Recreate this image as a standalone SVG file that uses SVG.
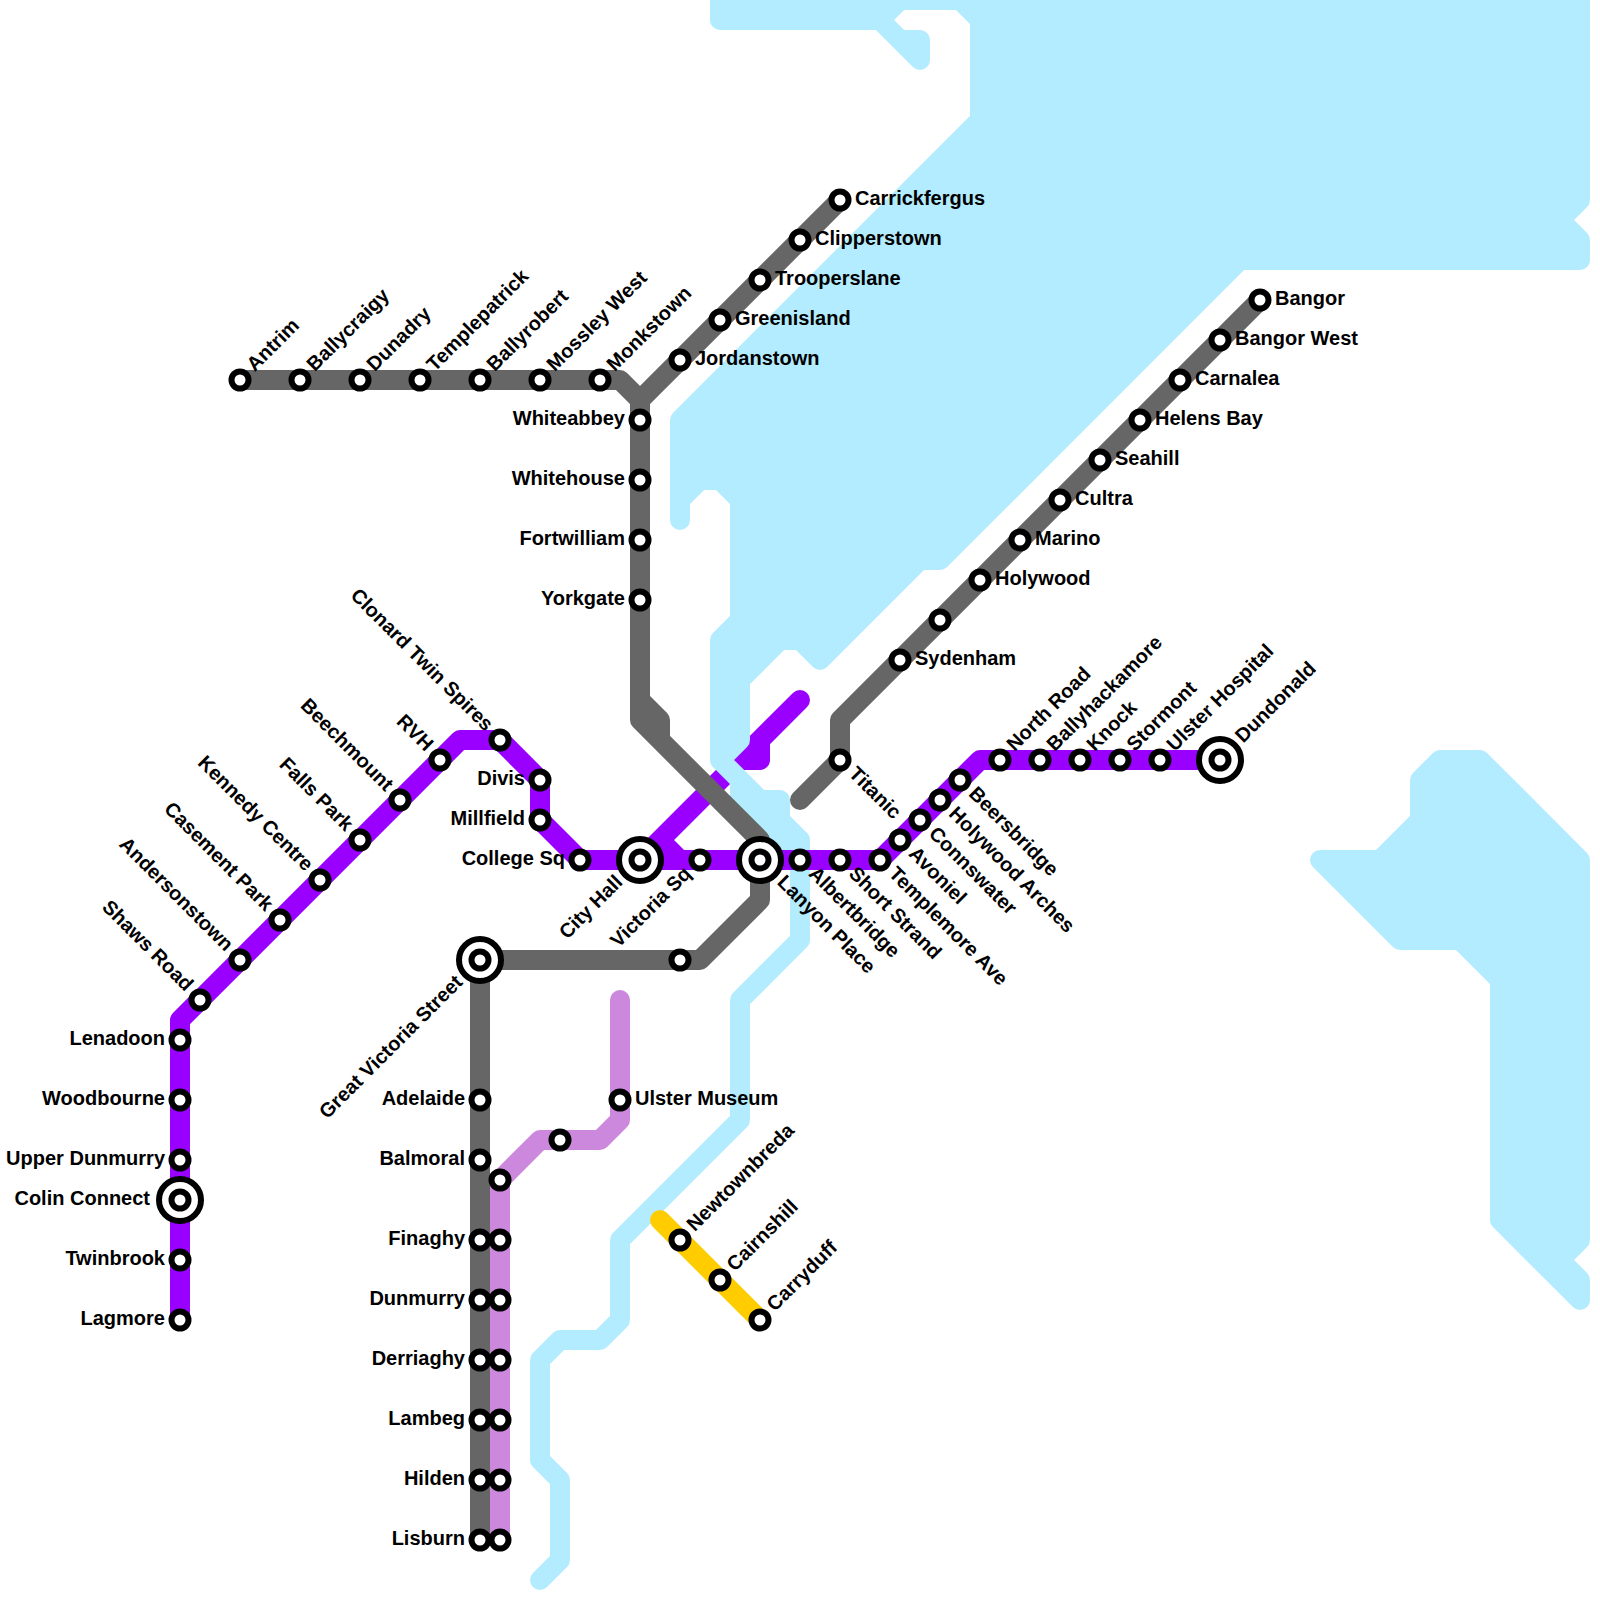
<svg xmlns="http://www.w3.org/2000/svg" width="1600" height="1600" viewBox="0 0 1600 1600">
<style>
.l{fill:none;stroke-width:20;stroke-linecap:round;stroke-linejoin:round}
.w{fill:#b3ecff;stroke:#b3ecff;stroke-width:20;stroke-linecap:round;stroke-linejoin:round}
.wl{fill:none;stroke:#b3ecff;stroke-width:20;stroke-linecap:round;stroke-linejoin:round}
.g{stroke:#666666}.p{stroke:#9900ff}.o{stroke:#cc88dd}.y{stroke:#ffcc00}
.s{fill:#fff;stroke:#000;stroke-width:6}
.i{fill:#fff;stroke:#000;stroke-width:6}
text{font-family:"Liberation Sans",Arial,sans-serif;font-weight:700;font-size:20px;fill:#000}
.e{text-anchor:end}
</style>
<rect width="1600" height="1600" fill="#fff"/>
<g id="connectors">
<path class="l p" d="M640 860L800 700M760 740V760H740M660 840L680 860"/>
<path class="w" d="M720 -20V20H880L920 60V40H900L880 20L900 0H960L980 20V120L680 420V520V500L700 480H720L740 500V620L720 640V760L740 780V800L780 840H800L780 820V800H760L720 760L740 740V680L780 640H800L820 660L920 560H940L1240 260H1580V240L1560 220L1580 200V-20Z"/>
<path class="wl" d="M800 840V940L740 1000V1120L620 1240V1320L600 1340H560L540 1360V1460L560 1480V1560L540 1580"/>
<path class="w" d="M1320 860H1380L1420 820V780L1440 760H1480L1580 860V1240L1560 1260L1580 1280V1300L1500 1220V980L1460 940H1400Z"/>
<path class="l g" d="M840 200L640 400L620 380H240M640 400V720L760 840V900L700 960H480V1540M640 700L660 720V740M1260 300L840 720V760L800 800"/>
<path class="l p" d="M1220 760H980L880 860H580L540 820V780L500 740H460L180 1020V1320"/>
<path class="l o" d="M620 1000V1120L600 1140H540L500 1180V1540"/>
<path class="l y" d="M660 1220L760 1320"/>
</g>
<g id="antrim"><circle class="s" cx="240" cy="380" r="8.5"/><text transform="translate(240 380) rotate(-45)" x="16" y="5">Antrim</text></g>
<g id="ballycraigy"><circle class="s" cx="300" cy="380" r="8.5"/><text transform="translate(300 380) rotate(-45)" x="16" y="5">Ballycraigy</text></g>
<g id="dunadry"><circle class="s" cx="360" cy="380" r="8.5"/><text transform="translate(360 380) rotate(-45)" x="16" y="5">Dunadry</text></g>
<g id="templepatrick"><circle class="s" cx="420" cy="380" r="8.5"/><text transform="translate(420 380) rotate(-45)" x="16" y="5">Templepatrick</text></g>
<g id="ballyrobert"><circle class="s" cx="480" cy="380" r="8.5"/><text transform="translate(480 380) rotate(-45)" x="16" y="5">Ballyrobert</text></g>
<g id="mossley-west"><circle class="s" cx="540" cy="380" r="8.5"/><text transform="translate(540 380) rotate(-45)" x="16" y="5">Mossley West</text></g>
<g id="monkstown"><circle class="s" cx="600" cy="380" r="8.5"/><text transform="translate(600 380) rotate(-45)" x="16" y="5">Monkstown</text></g>
<g id="jordanstown"><circle class="s" cx="680" cy="360" r="8.5"/><text x="695" y="365">Jordanstown</text></g>
<g id="greenisland"><circle class="s" cx="720" cy="320" r="8.5"/><text x="735" y="325">Greenisland</text></g>
<g id="trooperslane"><circle class="s" cx="760" cy="280" r="8.5"/><text x="775" y="285">Trooperslane</text></g>
<g id="clipperstown"><circle class="s" cx="800" cy="240" r="8.5"/><text x="815" y="245">Clipperstown</text></g>
<g id="carrickfergus"><circle class="s" cx="840" cy="200" r="8.5"/><text x="855" y="205">Carrickfergus</text></g>
<g id="whiteabbey"><circle class="s" cx="640" cy="420" r="8.5"/><text class="e" x="625" y="425">Whiteabbey</text></g>
<g id="whitehouse"><circle class="s" cx="640" cy="480" r="8.5"/><text class="e" x="625" y="485">Whitehouse</text></g>
<g id="fortwilliam"><circle class="s" cx="640" cy="540" r="8.5"/><text class="e" x="625" y="545">Fortwilliam</text></g>
<g id="yorkgate"><circle class="s" cx="640" cy="600" r="8.5"/><text class="e" x="625" y="605">Yorkgate</text></g>
<g id="bangor"><circle class="s" cx="1260" cy="300" r="8.5"/><text x="1275" y="305">Bangor</text></g>
<g id="bangor-west"><circle class="s" cx="1220" cy="340" r="8.5"/><text x="1235" y="345">Bangor West</text></g>
<g id="carnalea"><circle class="s" cx="1180" cy="380" r="8.5"/><text x="1195" y="385">Carnalea</text></g>
<g id="helens-bay"><circle class="s" cx="1140" cy="420" r="8.5"/><text x="1155" y="425">Helens Bay</text></g>
<g id="seahill"><circle class="s" cx="1100" cy="460" r="8.5"/><text x="1115" y="465">Seahill</text></g>
<g id="cultra"><circle class="s" cx="1060" cy="500" r="8.5"/><text x="1075" y="505">Cultra</text></g>
<g id="marino"><circle class="s" cx="1020" cy="540" r="8.5"/><text x="1035" y="545">Marino</text></g>
<g id="holywood"><circle class="s" cx="980" cy="580" r="8.5"/><text x="995" y="585">Holywood</text></g>
<g id="unnamed-1"><circle class="s" cx="940" cy="620" r="8.5"/></g>
<g id="sydenham"><circle class="s" cx="900" cy="660" r="8.5"/><text x="915" y="665">Sydenham</text></g>
<g id="titanic"><circle class="s" cx="840" cy="760" r="8.5"/><text transform="translate(840 760) rotate(45)" x="16" y="5">Titanic</text></g>
<g id="dundonald"><circle class="i" cx="1220" cy="760" r="21"/><circle class="s" cx="1220" cy="760" r="8.5"/><text transform="translate(1220 760) rotate(-45)" x="28" y="5">Dundonald</text></g>
<g id="ulster-hospital"><circle class="s" cx="1160" cy="760" r="8.5"/><text transform="translate(1160 760) rotate(-45)" x="16" y="5">Ulster Hospital</text></g>
<g id="stormont"><circle class="s" cx="1120" cy="760" r="8.5"/><text transform="translate(1120 760) rotate(-45)" x="16" y="5">Stormont</text></g>
<g id="knock"><circle class="s" cx="1080" cy="760" r="8.5"/><text transform="translate(1080 760) rotate(-45)" x="16" y="5">Knock</text></g>
<g id="ballyhackamore"><circle class="s" cx="1040" cy="760" r="8.5"/><text transform="translate(1040 760) rotate(-45)" x="16" y="5">Ballyhackamore</text></g>
<g id="north-road"><circle class="s" cx="1000" cy="760" r="8.5"/><text transform="translate(1000 760) rotate(-45)" x="16" y="5">North Road</text></g>
<g id="beersbridge"><circle class="s" cx="960" cy="780" r="8.5"/><text transform="translate(960 780) rotate(45)" x="16" y="5">Beersbridge</text></g>
<g id="holywood-arches"><circle class="s" cx="940" cy="800" r="8.5"/><text transform="translate(940 800) rotate(45)" x="16" y="5">Holywood Arches</text></g>
<g id="connswater"><circle class="s" cx="920" cy="820" r="8.5"/><text transform="translate(920 820) rotate(45)" x="16" y="5">Connswater</text></g>
<g id="avoniel"><circle class="s" cx="900" cy="840" r="8.5"/><text transform="translate(900 840) rotate(45)" x="16" y="5">Avoniel</text></g>
<g id="templemore-ave"><circle class="s" cx="880" cy="860" r="8.5"/><text transform="translate(880 860) rotate(45)" x="16" y="5">Templemore Ave</text></g>
<g id="short-strand"><circle class="s" cx="840" cy="860" r="8.5"/><text transform="translate(840 860) rotate(45)" x="16" y="5">Short Strand</text></g>
<g id="albertbridge"><circle class="s" cx="800" cy="860" r="8.5"/><text transform="translate(800 860) rotate(45)" x="16" y="5">Albertbridge</text></g>
<g id="lanyon-place"><circle class="i" cx="760" cy="860" r="21"/><circle class="s" cx="760" cy="860" r="8.5"/><text transform="translate(760 860) rotate(45)" x="28" y="5">Lanyon Place</text></g>
<g id="victoria-sq"><circle class="s" cx="700" cy="860" r="8.5"/><text class="e" transform="translate(700 860) rotate(-45)" x="-16" y="5">Victoria Sq</text></g>
<g id="city-hall"><circle class="i" cx="640" cy="860" r="21"/><circle class="s" cx="640" cy="860" r="8.5"/><text class="e" transform="translate(640 860) rotate(-45)" x="-28" y="5">City Hall</text></g>
<g id="college-sq"><circle class="s" cx="580" cy="860" r="8.5"/><text class="e" x="565" y="865">College Sq</text></g>
<g id="millfield"><circle class="s" cx="540" cy="820" r="8.5"/><text class="e" x="525" y="825">Millfield</text></g>
<g id="divis"><circle class="s" cx="540" cy="780" r="8.5"/><text class="e" x="525" y="785">Divis</text></g>
<g id="clonard-twin-spires"><circle class="s" cx="500" cy="740" r="8.5"/><text class="e" transform="translate(500 740) rotate(45)" x="-16" y="5">Clonard Twin Spires</text></g>
<g id="rvh"><circle class="s" cx="440" cy="760" r="8.5"/><text class="e" transform="translate(440 760) rotate(45)" x="-16" y="5">RVH</text></g>
<g id="beechmount"><circle class="s" cx="400" cy="800" r="8.5"/><text class="e" transform="translate(400 800) rotate(45)" x="-16" y="5">Beechmount</text></g>
<g id="falls-park"><circle class="s" cx="360" cy="840" r="8.5"/><text class="e" transform="translate(360 840) rotate(45)" x="-16" y="5">Falls Park</text></g>
<g id="kennedy-centre"><circle class="s" cx="320" cy="880" r="8.5"/><text class="e" transform="translate(320 880) rotate(45)" x="-16" y="5">Kennedy Centre</text></g>
<g id="casement-park"><circle class="s" cx="280" cy="920" r="8.5"/><text class="e" transform="translate(280 920) rotate(45)" x="-16" y="5">Casement Park</text></g>
<g id="andersonstown"><circle class="s" cx="240" cy="960" r="8.5"/><text class="e" transform="translate(240 960) rotate(45)" x="-16" y="5">Andersonstown</text></g>
<g id="shaws-road"><circle class="s" cx="200" cy="1000" r="8.5"/><text class="e" transform="translate(200 1000) rotate(45)" x="-16" y="5">Shaws Road</text></g>
<g id="lenadoon"><circle class="s" cx="180" cy="1040" r="8.5"/><text class="e" x="165" y="1045">Lenadoon</text></g>
<g id="woodbourne"><circle class="s" cx="180" cy="1100" r="8.5"/><text class="e" x="165" y="1105">Woodbourne</text></g>
<g id="upper-dunmurry"><circle class="s" cx="180" cy="1160" r="8.5"/><text class="e" x="165" y="1165">Upper Dunmurry</text></g>
<g id="colin-connect"><circle class="i" cx="180" cy="1200" r="21"/><circle class="s" cx="180" cy="1200" r="8.5"/><text class="e" x="150" y="1205">Colin Connect</text></g>
<g id="twinbrook"><circle class="s" cx="180" cy="1260" r="8.5"/><text class="e" x="165" y="1265">Twinbrook</text></g>
<g id="lagmore"><circle class="s" cx="180" cy="1320" r="8.5"/><text class="e" x="165" y="1325">Lagmore</text></g>
<g id="great-victoria-street"><circle class="i" cx="480" cy="960" r="21"/><circle class="s" cx="480" cy="960" r="8.5"/><text class="e" transform="translate(480 960) rotate(-45)" x="-28" y="5">Great Victoria Street</text></g>
<g id="unnamed-2"><circle class="s" cx="680" cy="960" r="8.5"/></g>
<g id="adelaide"><circle class="s" cx="480" cy="1100" r="8.5"/><text class="e" x="465" y="1105">Adelaide</text></g>
<g id="balmoral"><circle class="s" cx="480" cy="1160" r="8.5"/><text class="e" x="465" y="1165">Balmoral</text></g>
<g id="finaghy"><circle class="s" cx="480" cy="1240" r="8.5"/><text class="e" x="465" y="1245">Finaghy</text></g>
<g id="dunmurry"><circle class="s" cx="480" cy="1300" r="8.5"/><text class="e" x="465" y="1305">Dunmurry</text></g>
<g id="derriaghy"><circle class="s" cx="480" cy="1360" r="8.5"/><text class="e" x="465" y="1365">Derriaghy</text></g>
<g id="lambeg"><circle class="s" cx="480" cy="1420" r="8.5"/><text class="e" x="465" y="1425">Lambeg</text></g>
<g id="hilden"><circle class="s" cx="480" cy="1480" r="8.5"/><text class="e" x="465" y="1485">Hilden</text></g>
<g id="lisburn"><circle class="s" cx="480" cy="1540" r="8.5"/><text class="e" x="465" y="1545">Lisburn</text></g>
<g id="p1"><circle class="s" cx="500" cy="1180" r="8.5"/></g>
<g id="p2"><circle class="s" cx="500" cy="1240" r="8.5"/></g>
<g id="p3"><circle class="s" cx="500" cy="1300" r="8.5"/></g>
<g id="p4"><circle class="s" cx="500" cy="1360" r="8.5"/></g>
<g id="p5"><circle class="s" cx="500" cy="1420" r="8.5"/></g>
<g id="p6"><circle class="s" cx="500" cy="1480" r="8.5"/></g>
<g id="p7"><circle class="s" cx="500" cy="1540" r="8.5"/></g>
<g id="p8"><circle class="s" cx="560" cy="1140" r="8.5"/></g>
<g id="ulster-museum"><circle class="s" cx="620" cy="1100" r="8.5"/><text x="635" y="1105">Ulster Museum</text></g>
<g id="newtownbreda"><circle class="s" cx="680" cy="1240" r="8.5"/><text transform="translate(680 1240) rotate(-45)" x="16" y="5">Newtownbreda</text></g>
<g id="cairnshill"><circle class="s" cx="720" cy="1280" r="8.5"/><text transform="translate(720 1280) rotate(-45)" x="16" y="5">Cairnshill</text></g>
<g id="carryduff"><circle class="s" cx="760" cy="1320" r="8.5"/><text transform="translate(760 1320) rotate(-45)" x="16" y="5">Carryduff</text></g>
</svg>
